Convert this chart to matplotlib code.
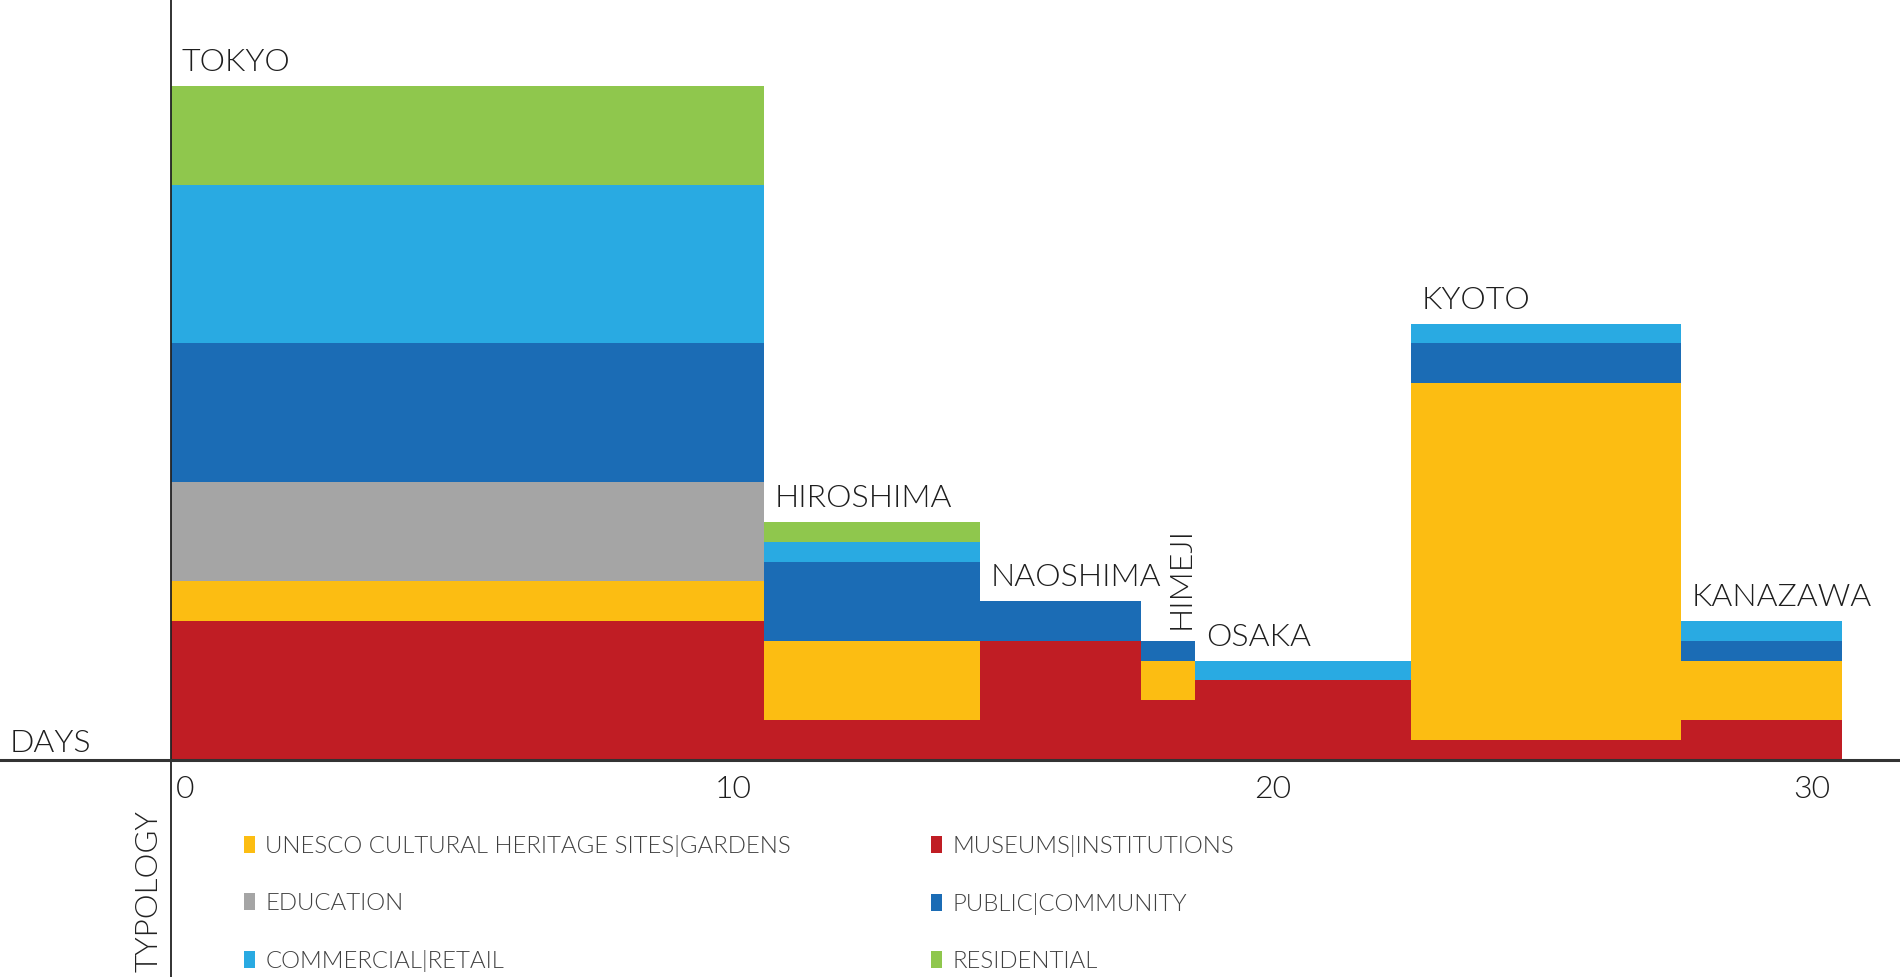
import matplotlib
matplotlib.use("Agg")
import matplotlib.pyplot as plt
import matplotlib.transforms as mtransforms
import numpy as np

# stay per city (days) and number of visited buildings per typology
cities = ["TOKYO", "HIROSHIMA", "NAOSHIMA", "HIMEJI", "OSAKA", "KYOTO", "KANAZAWA"]
days = [11, 4, 3, 1, 4, 5, 3]

museums = [7, 2, 6, 3, 4, 1, 2]
unesco = [2, 4, 0, 2, 0, 18, 3]
education = [5, 0, 0, 0, 0, 0, 0]
public = [7, 4, 2, 1, 0, 2, 1]
commercial = [8, 1, 0, 0, 1, 1, 1]
residential = [5, 1, 0, 0, 0, 0, 0]

# bottom -> top stacking order
layers = [
    ("MUSEUMS|INSTITUTIONS", museums, "#c01d24"),
    ("UNESCO CULTURAL HERITAGE SITES|GARDENS", unesco, "#fcbd12"),
    ("EDUCATION", education, "#a5a5a5"),
    ("PUBLIC|COMMUNITY", public, "#1b6cb5"),
    ("COMMERCIAL|RETAIL", commercial, "#29aae2"),
    ("RESIDENTIAL", residential, "#8fc74d"),
]

xticks = [0, 10, 20, 30]

plt.rcParams["font.family"] = ["Lato", "DejaVu Sans"]
W = 300  # Lato Light

fig = plt.figure(figsize=(19, 9.77), dpi=100)
ax = fig.add_axes([0, 0, 1, 1])

px_day = 53.92
px_unit = 19.82
ax.set_xlim(-170.8 / px_day, (1900 - 170.8) / px_day)
ax.set_ylim(-217.3 / px_unit, 759.7 / px_unit)

left = np.concatenate([[0], np.cumsum(days)[:-1]])
bottom = np.zeros(len(cities))
handles = {}
for name, vals, col in layers:
    vals = np.array(vals, dtype=float)
    b = ax.bar(left, vals, width=days, bottom=bottom, align="edge",
               color=col, linewidth=0, label=name)
    handles[name] = b
    bottom = bottom + vals
tops = bottom

# city labels above each block
for i, city in enumerate(cities):
    if city == "HIMEJI":
        ax.text(left[i] + days[i], tops[i] + 0.6, city, rotation=90,
                ha="right", va="bottom", fontsize=23, fontweight=W,
                color="#1e1e1e")
    else:
        ax.text(left[i] + 0.2, tops[i] + 0.75, city, ha="left",
                va="baseline", fontsize=23, fontweight=W, color="#1e1e1e")

# axes through the origin
for s in ["top", "right"]:
    ax.spines[s].set_visible(False)
ax.spines["left"].set_position(("data", 0))
ax.spines["bottom"].set_position(("data", 0))
ax.spines["left"].set_linewidth(1.3)
ax.spines["left"].set_color("#222222")
ax.spines["bottom"].set_linewidth(2.2)
ax.spines["bottom"].set_color("#333333")
ax.set_yticks([])
ax.set_xticks(xticks)
ax.set_xticklabels([str(t) for t in xticks], ha="left")
ax.tick_params(axis="x", length=0, pad=11, labelsize=23, labelcolor="#1e1e1e")
shift = mtransforms.ScaledTranslation(5 / 100, 0, fig.dpi_scale_trans)
for lab in ax.get_xticklabels():
    lab.set_fontweight(W)
    lab.set_transform(lab.get_transform() + shift)

ax.text(10 / 1900, 1 - 752 / 977, "DAYS", transform=ax.transAxes,
        ha="left", va="baseline", fontsize=23, fontweight=W, color="#1e1e1e")
ax.text(149 / 1900, 1 - 891 / 977, "TYPOLOGY", transform=ax.transAxes,
        rotation=90, ha="center", va="center", fontsize=22.5, fontweight=W,
        color="#222222")

# legend, two columns placed separately
col1 = ["UNESCO CULTURAL HERITAGE SITES|GARDENS", "EDUCATION", "COMMERCIAL|RETAIL"]
col2 = ["MUSEUMS|INSTITUTIONS", "PUBLIC|COMMUNITY", "RESIDENTIAL"]
leg_kw = dict(loc="upper left", frameon=False, borderpad=0,
              borderaxespad=0, handlelength=0.46, handleheight=0.71,
              handletextpad=0.42, labelspacing=1.5, labelcolor="#404040",
              prop={"weight": W, "size": 17.3})
leg1 = ax.legend([handles[n] for n in col1], col1,
                 bbox_to_anchor=(244 / 1900, 1 - 835 / 977),
                 bbox_transform=fig.transFigure, **leg_kw)
ax.add_artist(leg1)
ax.legend([handles[n] for n in col2], col2,
          bbox_to_anchor=(931 / 1900, 1 - 835 / 977),
          bbox_transform=fig.transFigure, **leg_kw)

fig.savefig("out.png", dpi=100)
